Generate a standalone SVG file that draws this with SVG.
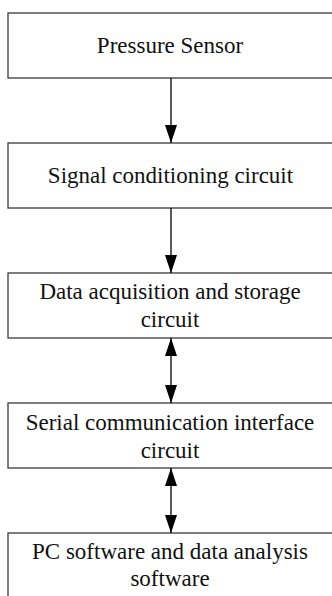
<svg xmlns="http://www.w3.org/2000/svg" width="332" height="596" viewBox="0 0 332 596">
  <style>
    .box { fill: #ffffff; stroke: #3a3a3a; stroke-width: 1.3; }
    .label { font-family: 'Liberation Serif', 'Times New Roman', Times, 'DejaVu Serif', serif; font-size: 23px; fill: #111111; text-anchor: middle; }
    .link { stroke: #000000; stroke-width: 1.3; fill: none; }
  </style>
  <defs>
    <marker id="arrow" markerUnits="userSpaceOnUse" markerWidth="18" markerHeight="12" refX="18" refY="6" orient="auto-start-reverse">
      <path d="M0,0 L18,6 L0,12 z" fill="#000000"/>
    </marker>
  </defs>
  <rect width="332" height="596" fill="#ffffff"/>

  <g id="pressure-sensor">
    <rect class="box" x="8" y="13" width="330" height="65"/>
    <text class="label" x="170" y="53">Pressure Sensor</text>
  </g>

  <g id="signal-conditioning">
    <rect class="box" x="8" y="143" width="330" height="65"/>
    <text class="label" x="170.5" y="183">Signal conditioning circuit</text>
  </g>

  <g id="data-acquisition">
    <rect class="box" x="8" y="273" width="330" height="65"/>
    <text class="label" x="170" y="298.5">Data acquisition and storage</text>
    <text class="label" x="170" y="326.5">circuit</text>
  </g>

  <g id="serial-interface">
    <rect class="box" x="8" y="403" width="330" height="65"/>
    <text class="label" x="170" y="429.5">Serial communication interface</text>
    <text class="label" x="170" y="457.5">circuit</text>
  </g>

  <g id="pc-software">
    <rect class="box" x="8" y="533" width="330" height="70"/>
    <text class="label" x="170" y="558.5">PC software and data analysis</text>
    <text class="label" x="170" y="586">software</text>
  </g>

  <g id="connectors">
    <line class="link" x1="171" y1="78" x2="171" y2="143" marker-end="url(#arrow)"/>
    <line class="link" x1="171" y1="208" x2="171" y2="273" marker-end="url(#arrow)"/>
    <line class="link" x1="171" y1="338" x2="171" y2="403" marker-start="url(#arrow)" marker-end="url(#arrow)"/>
    <line class="link" x1="171" y1="468" x2="171" y2="533" marker-start="url(#arrow)" marker-end="url(#arrow)"/>
  </g>
</svg>
